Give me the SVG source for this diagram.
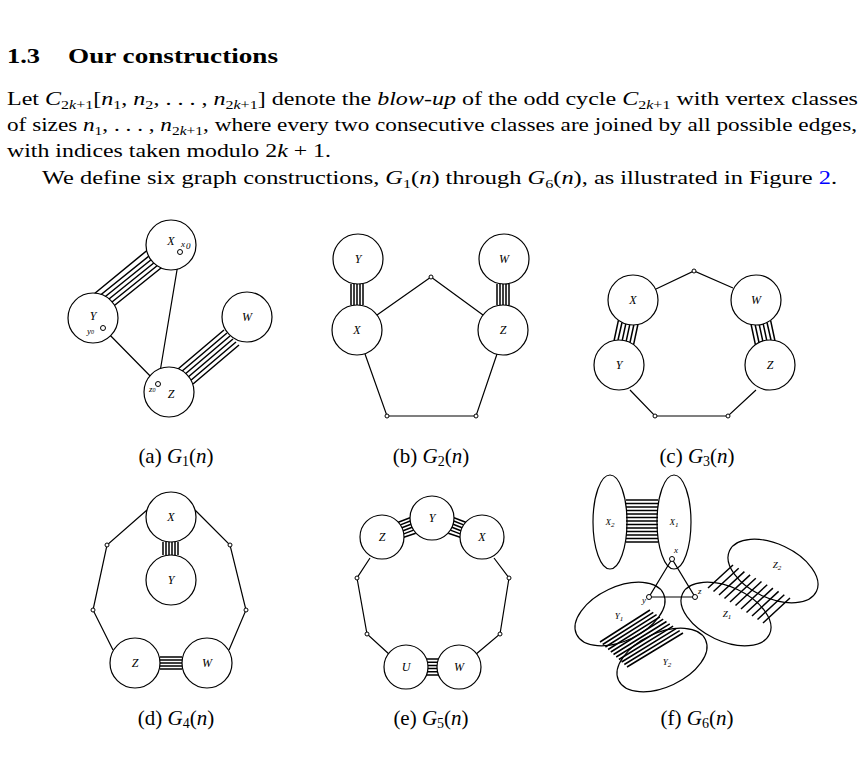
<svg xmlns="http://www.w3.org/2000/svg" width="863" height="765" viewBox="0 0 863 765">
<style>
text{font-family:"Liberation Serif","DejaVu Serif",serif;fill:#000}
.t{font-size:18px}
.c{font-size:21px;text-anchor:middle}
.l{font-size:12px;font-style:italic;text-anchor:middle}
.s{font-size:9px;font-style:italic}
.n{fill:#fff;stroke:#000;stroke-width:1.2}
.e{stroke:#000;stroke-width:1.2;fill:none}
.b{stroke:#000;stroke-width:1.5;fill:none}
.p{fill:#fff;stroke:#000;stroke-width:1}
</style>
<rect width="863" height="765" fill="#fff"/>
<text x="7" y="63" style="font-size:21px;font-weight:bold" textLength="33" lengthAdjust="spacingAndGlyphs">1.3</text>
<text x="68" y="63" style="font-size:21px;font-weight:bold" textLength="210" lengthAdjust="spacingAndGlyphs">Our constructions</text>
<text class="t" x="7" y="105" textLength="851" lengthAdjust="spacingAndGlyphs">Let <tspan font-style="italic">C</tspan><tspan font-size="12" dy="4">2<tspan font-style="italic">k</tspan>+1</tspan><tspan dy="-4">[<tspan font-style="italic">n</tspan></tspan><tspan font-size="12" dy="4">1</tspan><tspan dy="-4">, <tspan font-style="italic">n</tspan></tspan><tspan font-size="12" dy="4">2</tspan><tspan dy="-4">, . . . , <tspan font-style="italic">n</tspan></tspan><tspan font-size="12" dy="4">2<tspan font-style="italic">k</tspan>+1</tspan><tspan dy="-4">] denote the <tspan font-style="italic">blow-up</tspan> of the odd cycle <tspan font-style="italic">C</tspan></tspan><tspan font-size="12" dy="4">2<tspan font-style="italic">k</tspan>+1</tspan><tspan dy="-4"> with vertex classes</tspan></text>
<text class="t" x="7" y="131" textLength="850" lengthAdjust="spacingAndGlyphs">of sizes <tspan font-style="italic">n</tspan><tspan font-size="12" dy="4">1</tspan><tspan dy="-4">, . . . , <tspan font-style="italic">n</tspan></tspan><tspan font-size="12" dy="4">2<tspan font-style="italic">k</tspan>+1</tspan><tspan dy="-4">, where every two consecutive classes are joined by all possible edges,</tspan></text>
<text class="t" x="7" y="157" textLength="324" lengthAdjust="spacingAndGlyphs">with indices taken modulo 2<tspan font-style="italic">k</tspan> + 1.</text>
<text class="t" x="42" y="184" textLength="795" lengthAdjust="spacingAndGlyphs">We define six graph constructions, <tspan font-style="italic">G</tspan><tspan font-size="12" dy="4">1</tspan><tspan dy="-4">(<tspan font-style="italic">n</tspan>) through <tspan font-style="italic">G</tspan></tspan><tspan font-size="12" dy="4">6</tspan><tspan dy="-4">(<tspan font-style="italic">n</tspan>), as illustrated in Figure <tspan fill="#00f">2</tspan>.</tspan></text>

<g id="connectors">
<g class="b"><path d="M94,294L150,248M98,297L154,252M101,300L157,255M104,303L160,258M107,306L163,261M110,309L166,264"/>
<path d="M178,369L224,330M181,372L227,333M184,375L230,336M187,378L233,339M190,381L236,342M193,384L239,345"/></g>
<path class="e" d="M103,328L158,384M180,252L158,384"/>
<g class="b"><path d="M351,284V305M354,284V305M357,284V305M360,284V305M363,284V305M497,284V305M500,284V305M503,284V305M506,284V305M509,284V305"/></g>
<path class="e" d="M377,315L431,277L483,315M365,354L387,416H476L497,354"/>
<g class="b" stroke-width="1.3"><path d="M618.4,320.3L614.1,340.5M622,322.5L618,340M625.8,323.9L622.3,340.2M629.7,324.8L626.2,341.1M633.8,325L630,342.5M637.9,324.5L633.6,344.7M770.6,320.3L774.9,340.5M767,322.5L771,340M763.2,323.9L766.7,340.2M759.3,324.8L762.8,341.1M755.2,325L759,342.5M751.1,324.5L755.4,344.7"/></g>
<path class="e" d="M656,289L694,271L733,288M630,390L655,416H728L756,390"/>
<g class="b"><path d="M163,542V555M166,542V555M169,542V555M172,542V555M175,542V555M178,542V555M160,657H182M160,660H182M160,663H182M160,666H182M160,669H182"/></g>
<path class="e" d="M147,510L107,545L93,610L113,650M195,510L230,545L246,610L229,650"/>
<g class="b" stroke-width="1.3"><path d="M398.3,522.2L410,517.8M400.4,524.9L410.2,521M401.9,527.7L410.9,524.3M403.1,530.7L412.1,527.3M403.8,533.9L413.6,530.1M403.8,537.2L415.7,533.2M465.7,522.2L454,517.8M463.6,524.9L453.8,521M462.1,527.7L453.1,524.3M460.9,530.7L451.9,527.3M460.2,533.9L450.4,530.1M460.2,537.2L448.3,533.2M426.5,659H438.5M427.5,662.2H437.5M427.9,665.4H437.1M427.9,668.6H437.1M427.5,671.8H437.5M426.5,675H438.5"/></g>
<path class="e" d="M370,558L357,578L367,634L390,655M494,558L509,578L500,634L475,655"/>
<g class="b" stroke-width="1.2"><path d="M626,500H658M626,503.5H658M626,507H658M626,510.5H658M626,514H658M626,517.5H658M626,521H658M626,524.5H658M626,528H658M626,531.5H658M626,535H658M626,538.5H658M626,542H658"/>
<path d="M733,565L708,588M738.7,568.3L713.5,591.5M744.4,571.6L719,595M750.1,574.9L724.5,598.5M755.8,578.2L730,602M761.5,581.5L735.5,605.5M767.2,584.8L741,609M772.9,588.1L746.5,612.5M778.6,591.4L752,616M784.3,594.7L757.5,619.5M790,598L763,623"/>
<path d="M650,610L600,642M653.3,612.3L602.7,644.5M656.6,614.6L605.4,647M659.9,616.9L608.1,649.5M663.2,619.2L610.8,652M666.5,621.5L613.5,654.5M669.8,623.8L616.2,657M673.1,626.1L618.9,659.5M676.4,628.4L621.6,662M679.7,630.7L624.3,664.5M683,633L627,667"/></g>
<path class="e" d="M672,559L649,597H695Z"/>
</g>

<g id="nodes">
<g id="g1X"><circle class="n" cx="171" cy="245" r="25"/><text class="l" x="171" y="245">X</text><text class="s" x="181" y="247">x</text><text class="s" x="186" y="249" font-size="6">0</text><circle class="p" cx="180" cy="252" r="2.5"/></g>
<g id="g1Y"><circle class="n" cx="93" cy="318" r="25"/><text class="l" x="93" y="320">Y</text><text class="s" x="87" y="334">y<tspan font-size="6">0</tspan></text><circle class="p" cx="103" cy="328" r="2.5"/></g>
<g id="g1W"><circle class="n" cx="247" cy="317" r="25"/><text class="l" x="247" y="321">W</text></g>
<g id="g1Z"><circle class="n" cx="169" cy="392" r="25"/><text class="l" x="171" y="398">Z</text><text class="s" x="149" y="392">z<tspan font-size="6">0</tspan></text><circle class="p" cx="158" cy="384" r="2.5"/></g>
<text class="c" x="176" y="463">(a) <tspan font-style="italic">G</tspan><tspan font-size="14" dy="3">1</tspan><tspan dy="-3">(<tspan font-style="italic">n</tspan>)</tspan></text>

<g id="g2Y"><circle class="n" cx="358" cy="259" r="25"/><text class="l" x="358" y="263">Y</text></g>
<g id="g2W"><circle class="n" cx="504" cy="259" r="25"/><text class="l" x="504" y="263">W</text></g>
<g id="g2X"><circle class="n" cx="357" cy="330" r="25"/><text class="l" x="357" y="334">X</text></g>
<g id="g2Z"><circle class="n" cx="503" cy="330" r="25"/><text class="l" x="503" y="334">Z</text></g>
<circle class="p" cx="431" cy="277" r="2"/><circle class="p" cx="387" cy="416" r="2"/><circle class="p" cx="476" cy="416" r="2"/>
<text class="c" x="431" y="463">(b) <tspan font-style="italic">G</tspan><tspan font-size="14" dy="3">2</tspan><tspan dy="-3">(<tspan font-style="italic">n</tspan>)</tspan></text>

<g id="g3X"><circle class="n" cx="633" cy="300" r="25"/><text class="l" x="633" y="304">X</text></g>
<g id="g3W"><circle class="n" cx="756" cy="300" r="25"/><text class="l" x="756" y="304">W</text></g>
<g id="g3Y"><circle class="n" cx="619" cy="365" r="25"/><text class="l" x="619" y="369">Y</text></g>
<g id="g3Z"><circle class="n" cx="770" cy="365" r="25"/><text class="l" x="770" y="369">Z</text></g>
<circle class="p" cx="694" cy="271" r="2"/><circle class="p" cx="655" cy="416" r="2"/><circle class="p" cx="728" cy="416" r="2"/>
<text class="c" x="697" y="463">(c) <tspan font-style="italic">G</tspan><tspan font-size="14" dy="3">3</tspan><tspan dy="-3">(<tspan font-style="italic">n</tspan>)</tspan></text>

<g id="g4X"><circle class="n" cx="171" cy="517" r="25"/><text class="l" x="171" y="521">X</text></g>
<g id="g4Y"><circle class="n" cx="171" cy="580" r="25"/><text class="l" x="171" y="584">Y</text></g>
<g id="g4Z"><circle class="n" cx="135" cy="663" r="25"/><text class="l" x="135" y="667">Z</text></g>
<g id="g4W"><circle class="n" cx="207" cy="663" r="25"/><text class="l" x="207" y="667">W</text></g>
<circle class="p" cx="107" cy="545" r="2"/><circle class="p" cx="230" cy="545" r="2"/><circle class="p" cx="93" cy="610" r="2"/><circle class="p" cx="246" cy="610" r="2"/>
<text class="c" x="176" y="725">(d) <tspan font-style="italic">G</tspan><tspan font-size="14" dy="3">4</tspan><tspan dy="-3">(<tspan font-style="italic">n</tspan>)</tspan></text>

<g id="g5Z"><circle class="n" cx="382" cy="537" r="22"/><text class="l" x="382" y="541">Z</text></g>
<g id="g5Y"><circle class="n" cx="432" cy="518" r="22"/><text class="l" x="432" y="522">Y</text></g>
<g id="g5X"><circle class="n" cx="482" cy="537" r="22"/><text class="l" x="482" y="541">X</text></g>
<g id="g5U"><circle class="n" cx="406" cy="667" r="22"/><text class="l" x="406" y="671">U</text></g>
<g id="g5W"><circle class="n" cx="459" cy="667" r="22"/><text class="l" x="459" y="671">W</text></g>
<circle class="p" cx="357" cy="578" r="2"/><circle class="p" cx="509" cy="578" r="2"/><circle class="p" cx="367" cy="634" r="2"/><circle class="p" cx="500" cy="634" r="2"/>
<text class="c" x="431" y="725">(e) <tspan font-style="italic">G</tspan><tspan font-size="14" dy="3">5</tspan><tspan dy="-3">(<tspan font-style="italic">n</tspan>)</tspan></text>

<g id="g6X2"><ellipse class="e" cx="610" cy="522" rx="17" ry="47"/><text class="s" x="610" y="525" text-anchor="middle" font-size="10">X<tspan font-size="7" dy="2">2</tspan></text></g>
<g id="g6X1"><ellipse class="e" cx="674" cy="522" rx="17" ry="47"/><text class="s" x="674" y="525" text-anchor="middle" font-size="10">X<tspan font-size="7" dy="2">1</tspan></text></g>
<g id="g6Z2"><ellipse class="e" cx="773" cy="571" rx="48" ry="27" transform="rotate(25 773 571)"/><text class="s" x="777" y="568" text-anchor="middle" font-size="10">Z<tspan font-size="7" dy="2">2</tspan></text></g>
<g id="g6Z1"><ellipse class="e" cx="726" cy="614" rx="48" ry="27" transform="rotate(25 726 614)"/><text class="s" x="727" y="617" text-anchor="middle" font-size="10">Z<tspan font-size="7" dy="2">1</tspan></text></g>
<g id="g6Y1"><ellipse class="e" cx="620" cy="614" rx="48" ry="27" transform="rotate(-25 620 614)"/><text class="s" x="619" y="619" text-anchor="middle" font-size="10">Y<tspan font-size="7" dy="2">1</tspan></text></g>
<g id="g6Y2"><ellipse class="e" cx="662" cy="660" rx="48" ry="27" transform="rotate(-25 662 660)"/><text class="s" x="667" y="665" text-anchor="middle" font-size="10">Y<tspan font-size="7" dy="2">2</tspan></text></g>
<circle class="p" cx="672" cy="559" r="2.5"/><circle class="p" cx="649" cy="597" r="2.5"/><circle class="p" cx="695" cy="597" r="2.5"/>
<text class="s" x="674" y="553">x</text><text class="s" x="642" y="603">y</text><text class="s" x="698" y="594">z</text>
<text class="c" x="697" y="725">(f) <tspan font-style="italic">G</tspan><tspan font-size="14" dy="3">6</tspan><tspan dy="-3">(<tspan font-style="italic">n</tspan>)</tspan></text>
</g>
</svg>
